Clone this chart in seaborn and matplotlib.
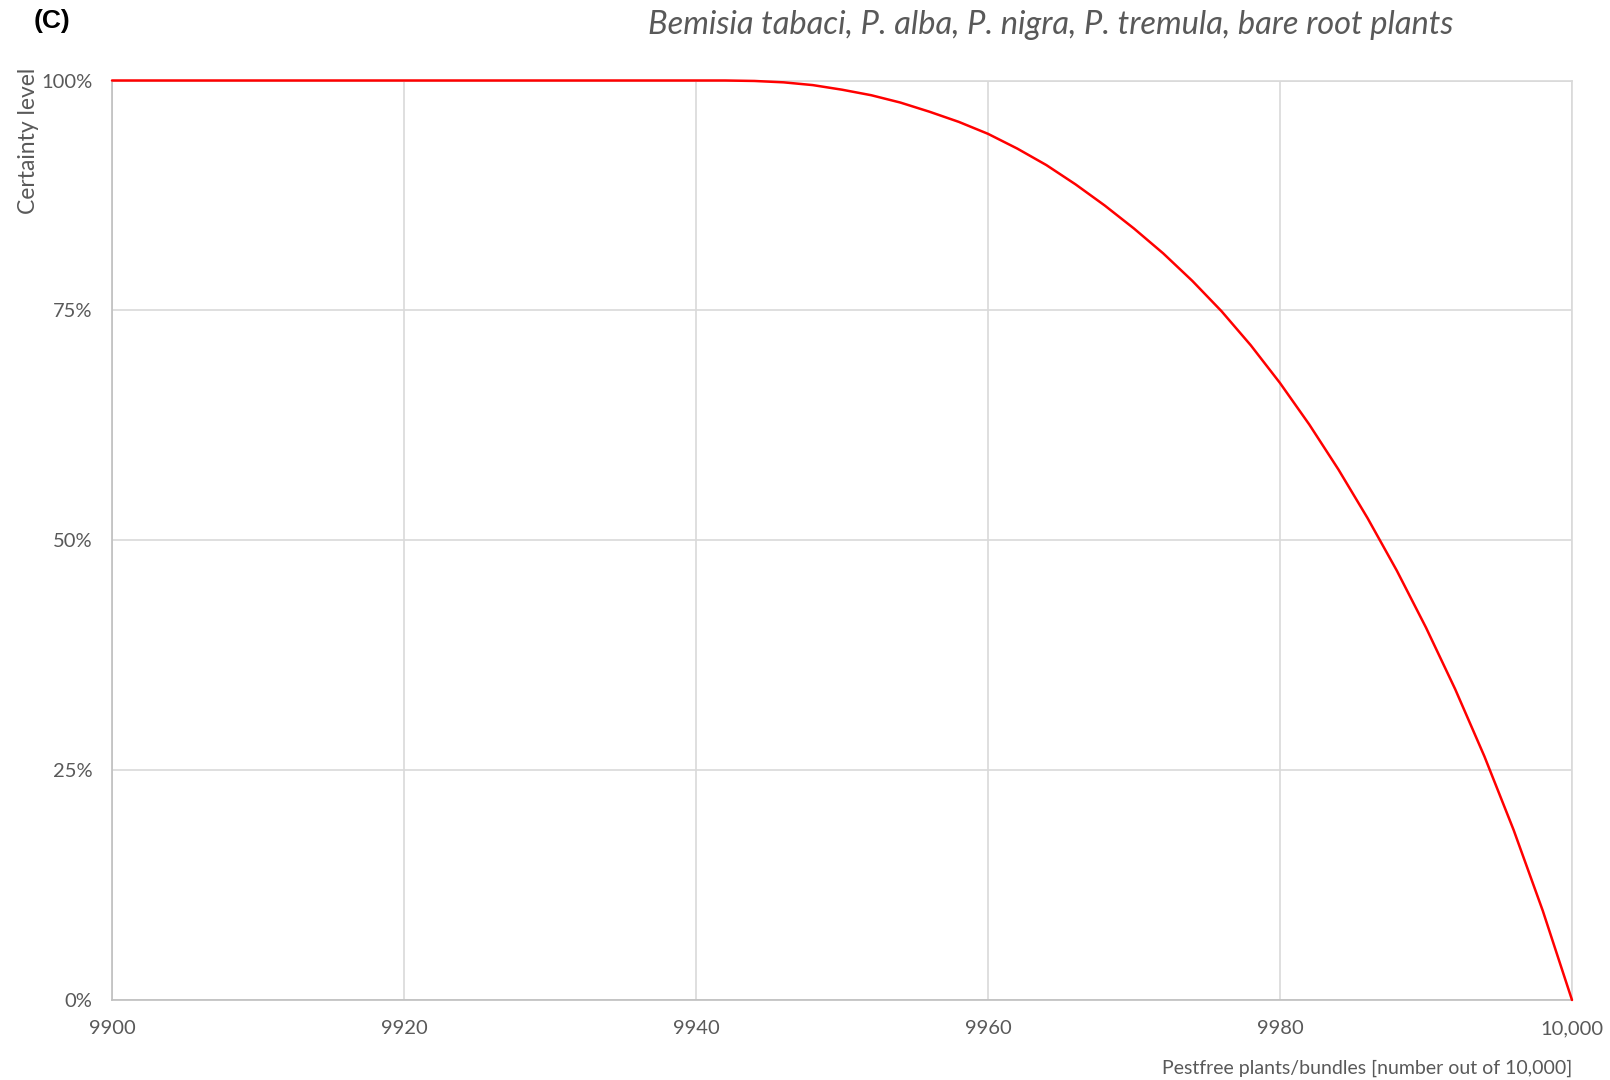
import numpy as np
import pandas as pd
import seaborn as sns
import matplotlib.pyplot as plt

# values
pestfree = [9900, 9940, 9942, 9944, 9946, 9948, 9950, 9952, 9954, 9956, 9958,
            9960, 9962, 9964, 9966, 9968, 9970, 9972, 9974, 9976, 9978,
            9980, 9982, 9984, 9986, 9988, 9990, 9992, 9994, 9996, 9998, 10000]
certainty = [1.000, 1.000, 1.000, 0.9995, 0.998, 0.995, 0.990, 0.984, 0.976, 0.966, 0.955,
             0.942, 0.926, 0.908, 0.887, 0.864, 0.839, 0.812, 0.782, 0.749, 0.712,
             0.671, 0.626, 0.577, 0.524, 0.467, 0.405, 0.338, 0.265, 0.185, 0.097, 0.000]

x_ticks = [9900, 9920, 9940, 9960, 9980, 10000]
x_tick_labels = ["9900", "9920", "9940", "9960", "9980", "10,000"]
y_ticks = [0, 0.25, 0.5, 0.75, 1.0]
y_tick_labels = ["0%", "25%", "50%", "75%", "100%"]

title = "Bemisia tabaci, P. alba, P. nigra, P. tremula, bare root plants"
panel = "(C)"
x_label = "Pestfree plants/bundles [number out of 10,000]"
y_label = "Certainty level"

sns.set_theme(style="whitegrid")
plt.rcParams['font.family'] = ['Lato', 'DejaVu Sans']
text_grey = "#595959"
grid_grey = "#d9d9d9"

df = pd.DataFrame({"pestfree": pestfree, "certainty": certainty})

fig = plt.figure(figsize=(16.1, 10.8), dpi=100)
ax = fig.add_axes([112 / 1610, 1 - 1000 / 1080, 1460 / 1610, 919.5 / 1080])

sns.lineplot(data=df, x="pestfree", y="certainty", ax=ax, color="#ff0000",
             linewidth=1.8, zorder=5, clip_on=False)
for ln in ax.lines:
    ln.set_solid_joinstyle("round")

ax.set_xlim(9900, 10000)
ax.set_ylim(0, 1)
ax.set_xticks(x_ticks)
ax.set_xticklabels(x_tick_labels)
ax.set_yticks(y_ticks)
ax.set_yticklabels(y_tick_labels)

ax.grid(True, color=grid_grey, linewidth=1.2)
ax.tick_params(axis="both", length=0, labelsize=14.5, labelcolor=text_grey)
ax.tick_params(axis="x", pad=14.5)
ax.tick_params(axis="y", pad=14)

for side in ["top", "right"]:
    ax.spines[side].set_color(grid_grey)
    ax.spines[side].set_linewidth(1.2)
for side in ["left", "bottom"]:
    ax.spines[side].set_color("#bfbfbf")
    ax.spines[side].set_linewidth(1.2)

ax.set_xlabel(x_label, loc="right", fontsize=14, color=text_grey)
ax.xaxis.set_label_coords(1.0, -0.065)
ax.set_ylabel(y_label, loc="top", fontsize=16.5, color=text_grey)
ax.yaxis.set_label_coords(-0.050, 1.014)

fig.text(1051 / 1610, 1 - 25 / 1080, title, ha="center", va="center",
         fontsize=23.5, style="italic", color=text_grey)
fig.text(34 / 1610, 1 - 21 / 1080, panel, ha="left", va="center",
         fontsize=19, fontweight="bold", family=["Liberation Sans", "DejaVu Sans"],
         color="black")

fig.savefig("out.png", dpi=100)
